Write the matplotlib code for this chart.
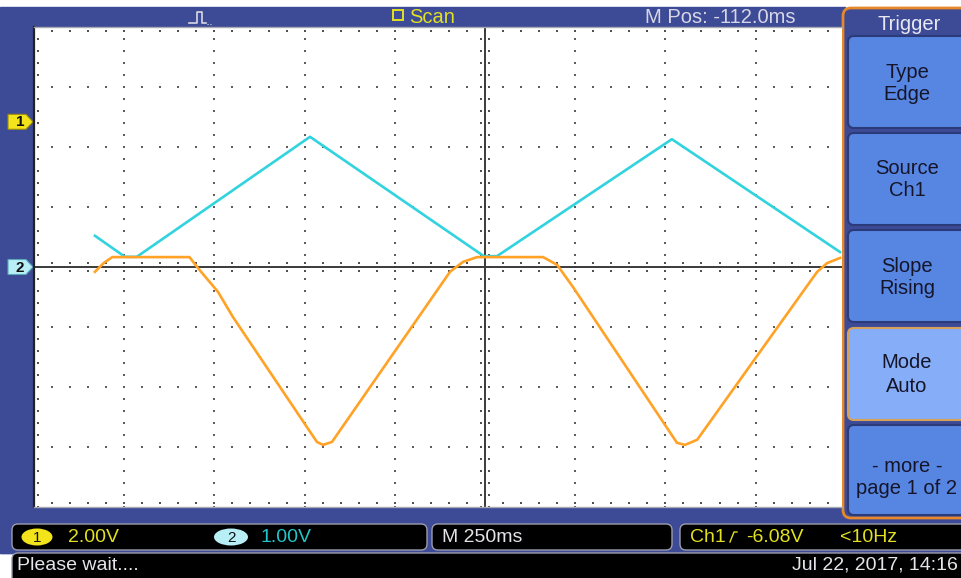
import numpy as np
import matplotlib
matplotlib.use("Agg")
import matplotlib.pyplot as plt
from matplotlib.patches import Rectangle, FancyBboxPatch, Polygon, Ellipse

plt.rcParams['font.family'] = ['Liberation Sans', 'DejaVu Sans']

# scope settings
time_per_div = 250.0      # ms
ch1_volts_per_div = 2.0
ch2_volts_per_div = 1.0
ch1_offset_div = 2.42     # ground marker "1"
ch2_offset_div = 0.0      # ground marker "2"

# ch1 trace (orange): time in ms from screen centre, volts
ch1_t = [-1081, -1056, -1033, -819, -798, -740, -699, -466, -449, -424,
         -97, -61, -22, 161, 200, 244, 532, 554, 588, 920, 948, 984]
ch1_v = [-5.0, -4.7, -4.51, -4.51, -4.84, -5.67, -6.5, -10.67, -10.77, -10.67,
         -5.0, -4.67, -4.51, -4.51, -4.77, -5.51, -10.7, -10.77, -10.6,
         -5.01, -4.71, -4.54]

# ch2 trace (cyan): time in ms, volts
ch2_t = [-1081, -998, -965, -485, -3, 33, 518, 984]
ch2_v = [0.52, 0.17, 0.17, 2.17, 0.18, 0.18, 2.13, 0.25]

# menu on the right
menu_labels = [("Type", "Edge"), ("Source", "Ch1"), ("Slope", "Rising"),
               ("Mode", "Auto"), ("- more -", "page 1 of 2")]

W, H = 961, 578
blue = '#3D4A96'
yellow = '#E2E020'
cyan_txt = '#22C6CA'
light = '#E4E4EA'

fig = plt.figure(figsize=(W / 100, H / 100), dpi=100)
bg = fig.add_axes([0, 0, 1, 1])
bg.set_xlim(0, W)
bg.set_ylim(H, 0)
bg.axis('off')

bg.add_patch(Rectangle((0, 0), W, H, color='white'))
bg.add_patch(Rectangle((0, 7), 845, 546, color=blue))
bg.add_patch(Rectangle((0, 507), W, 46, color=blue))

# header
bg.plot([189, 197, 197, 202, 202, 206], [23, 23, 12, 12, 23, 23], color='#D8D8E4', lw=1.2)
bg.plot([207, 211], [23.5, 23.5], color='#D8D8E4', lw=0.8, ls=':')
bg.add_patch(Rectangle((393, 10), 10, 10, fill=False, ec=yellow, lw=1.4))
bg.text(409, 17.5, "Scan", color=yellow, fontsize=14.5, va='center', ha='left')
bg.text(645, 17.5, "M Pos: -112.0ms", color='#D6D6E6', fontsize=14.5, va='center', ha='left')

# channel ground markers on the left
def marker(cy, face, edge, label):
    pts = [(8, cy - 7.5), (26, cy - 7.5), (33, cy), (26, cy + 7.5), (8, cy + 7.5)]
    bg.add_patch(Polygon(pts, closed=True, fc=face, ec=edge, lw=0.8))
    bg.text(20, cy + 0.5, label, color='#111', fontsize=11, fontweight='bold',
            ha='center', va='center')

marker(267 - ch1_offset_div * 60, '#F2E31B', '#9A8A10', '1')
marker(267 - ch2_offset_div * 60, '#B8EEF6', '#5AA8B8', '2')

# bottom status boxes
def box(x0, y0, x1, y1):
    bg.add_patch(FancyBboxPatch((x0, y0), x1 - x0, y1 - y0,
                                boxstyle='round,pad=0,rounding_size=6',
                                fc='black', ec='#9C9CAE', lw=1))

box(12, 524, 427, 550)
box(432, 524, 672, 550)
box(680, 524, 966, 550)
box(12, 553, 970, 584)

bg.add_patch(Ellipse((37, 537), 31, 17, fc='#F2E31B', ec='none'))
bg.text(37, 537.5, "1", color='#111', fontsize=11, ha='center', va='center')
bg.text(68, 537, "2.00V", color=yellow, fontsize=14, va='center')
bg.add_patch(Ellipse((231, 537), 34, 17, fc='#B8EEF6', ec='none'))
bg.text(231, 537.5, "2", color='#111', fontsize=11, ha='center', va='center')
bg.text(261, 537, "1.00V", color=cyan_txt, fontsize=14, va='center')
bg.text(442, 537, "M 250ms", color=light, fontsize=14, va='center')
bg.text(690, 538, "Ch1", color=yellow, fontsize=14, va='center')
bg.plot([730, 734, 737], [542, 532, 532], color=yellow, lw=1)
bg.text(746, 538, "-6.08V", color=yellow, fontsize=14, va='center')
bg.text(840, 538, "<10Hz", color=yellow, fontsize=14, va='center')
bg.text(17, 565, "Please wait....", color=light, fontsize=14, va='center')
bg.text(958, 565, "Jul 22, 2017, 14:16", color=light, fontsize=14, va='center', ha='right')

# trigger menu panel
bg.add_patch(FancyBboxPatch((843, 8), 130, 510, boxstyle='round,pad=0,rounding_size=8',
                            fc=blue, ec='#E5892A', lw=2))
bg.text(909, 24, "Trigger", color='#E8E8F2', fontsize=14.5, ha='center', va='center')
btn_rows = [(36, 128), (133, 225), (230, 322), (328, 420), (425, 515)]
text_rows = [(72, 94), (169, 191), (266, 288), (363, 386), (467, 488)]
for i, ((y0, y1), (t1, t2), (l1, l2)) in enumerate(zip(btn_rows, text_rows, menu_labels)):
    face = '#86ADF7' if i == 3 else '#5786E2'
    edge = '#D6A25A' if i == 3 else '#2B3A78'
    bg.add_patch(FancyBboxPatch((848, y0), 130, y1 - y0, boxstyle='round,pad=0,rounding_size=6',
                                fc=face, ec=edge, lw=1.5))
    bg.text(907, t1, l1, color='#15152A', fontsize=14.5, ha='center', va='center')
    bg.text(907, t2, l2, color='#15152A', fontsize=14.5, ha='center', va='center')

# graticule
px_per_div = 90.2
gx = fig.add_axes([34 / W, 1 - 507 / H, (842 - 34) / W, 480 / H])
gx.set_xlim(-5 * time_per_div, (842 - 485) / px_per_div * time_per_div)
gx.set_ylim(-4, 4)
gx.set_facecolor('white')
gx.set_xticks([])
gx.set_yticks([])
gx.spines['right'].set_visible(False)
gx.spines['left'].set_color('#222')
gx.spines['left'].set_linewidth(1.6)
for s in ('top', 'bottom'):
    gx.spines[s].set_color('#A8A8B0')
    gx.spines[s].set_linewidth(1)

t_hi = gx.get_xlim()[1]
minor_t = np.arange(-1250, t_hi, 50)
minor_d = np.arange(-4, 4.001, 0.2)
major_t = [t for t in np.arange(-1000, t_hi, 250) if t != 0]
major_d = [d for d in range(-3, 4) if d != 0]

dx, dy = [], []
for t in major_t:
    dx += [t] * len(minor_d)
    dy += list(minor_d)
for d in major_d:
    dx += list(minor_t)
    dy += [d] * len(minor_t)
gx.scatter(dx, dy, s=1.5, c='#5E5E5E', marker='s', lw=0, zorder=1)

# ticks on centre lines and edges
tk_t = 11.0    # ~4 px in ms
tk_d = 0.065   # ~4 px in div
tx = list(minor_t) * 2 + list(minor_t) * 2
ty = [tk_d] * len(minor_t) + [-tk_d] * len(minor_t) + \
     [4 - tk_d] * len(minor_t) + [-4 + tk_d] * len(minor_t)
tx += [tk_t] * len(minor_d) + [-tk_t] * len(minor_d) + [-1250 + tk_t] * len(minor_d)
ty += list(minor_d) * 3
gx.scatter(tx, ty, s=1.8, c='#505050', marker='s', lw=0, zorder=1)

gx.axhline(0, color='#3A3A3A', lw=1.4, zorder=2)
gx.axvline(0, color='#3A3A3A', lw=1.4, zorder=2)

# traces in screen divisions
ch1_div = np.array(ch1_v) / ch1_volts_per_div + ch1_offset_div
ch2_div = np.array(ch2_v) / ch2_volts_per_div + ch2_offset_div
gx.plot(ch2_t, ch2_div, color='#30D3DE', lw=1.9, zorder=3, solid_joinstyle='round')
gx.plot(ch1_t, ch1_div, color='#FFA226', lw=1.9, zorder=4, solid_joinstyle='round')

fig.savefig("out.png", dpi=100)
